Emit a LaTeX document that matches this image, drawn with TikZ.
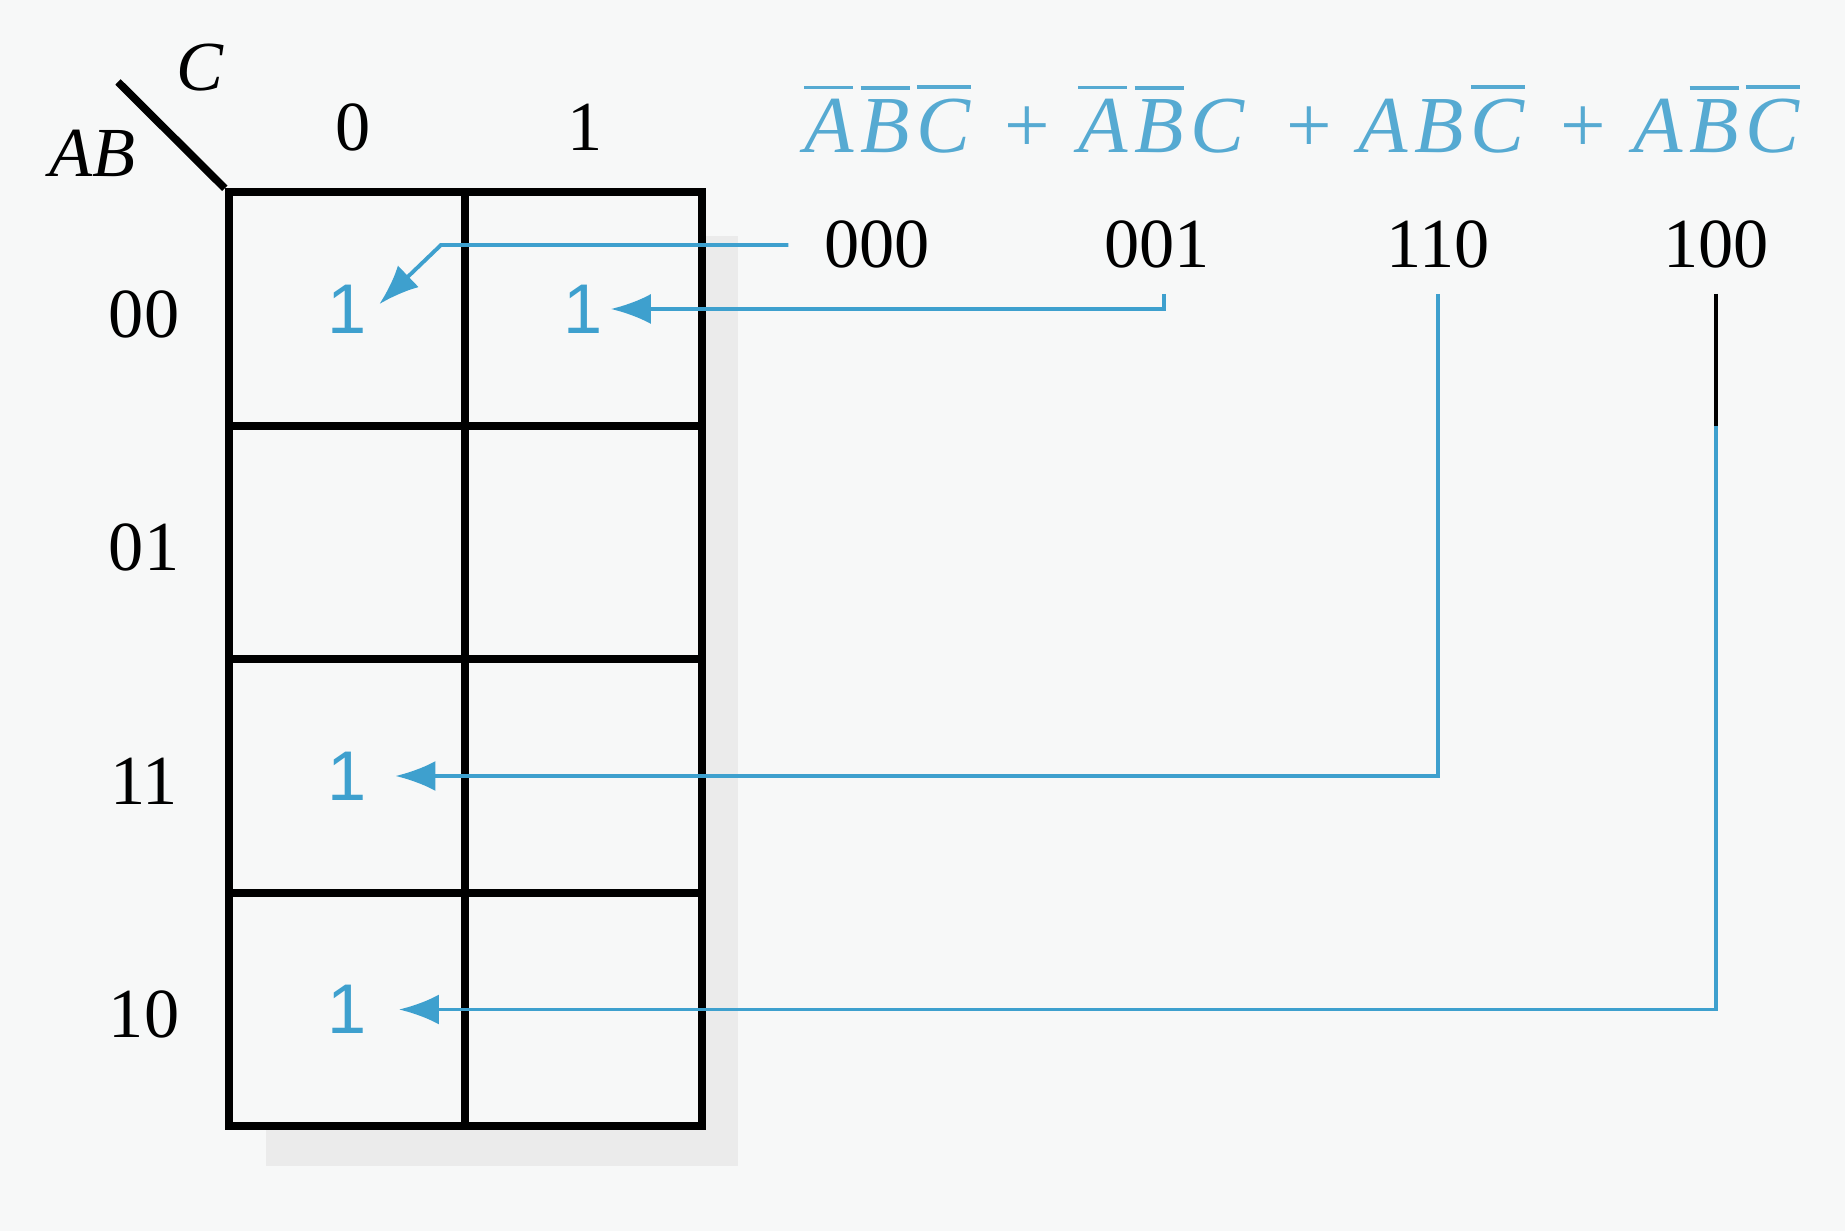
\documentclass[tikz,border=0pt]{standalone}
\usepackage{fontspec}
\setmainfont{Liberation Serif}
\setsansfont{Liberation Sans}
\usepackage{amsmath}
\usetikzlibrary{arrows.meta, positioning, calc}
\definecolor{mapblue}{RGB}{62,160,206}
\definecolor{termblue}{RGB}{86,170,210}
\definecolor{paper}{RGB}{247,248,248}
\newcommand{\nb}[1]{\overline{\text{\itshape #1}}\kern2pt}
\newcommand{\ib}[1]{\text{\itshape #1}\kern2pt}

\begin{document}
\begin{tikzpicture}[
  x=0.01cm, y=-0.01cm,
  every node/.style={font=\fontsize{20}{24}\selectfont, inner sep=2pt},
  cellbox/.style={draw, line width=2.2pt, minimum width=2.365cm,
                  minimum height=2.335cm, inner sep=0pt},
  entry/.style={text=mapblue, font=\fontsize{20}{24}\selectfont\sffamily},
  code/.style={anchor=base},
  term/.style={anchor=base, text=termblue, font=\fontsize{23}{27}\selectfont},
  link/.style={draw=mapblue, line width=1.1pt},
  arr/.style={link, -{Latex[length=4mm, width=3mm]}},
]
  \fill[paper] (0,0) rectangle (1845,1231);
  \useasboundingbox (0,0) rectangle (1845,1231);

  % soft shadow of the map
  \fill[black!8] (706,236) rectangle (738,1166);
  \fill[black!8] (266,1130) rectangle (738,1166);

  % the map
  \foreach \r in {0,...,3}
    \foreach \c in {0,1}
      \node[cellbox] (cell-\r-\c) at ({347+236.5*\c}, {309+233.5*\r}) {};

  \coordinate (corner) at (118,82);
  \draw[line width=2.2pt] (corner) -- (cell-0-0.north west);
  \node[font=\fontsize{20}{24}\selectfont\itshape] (lab-c) at (200,68) {C};
  \node[font=\fontsize{20}{24}\selectfont\itshape] (lab-ab) at (92,153) {AB};

  \node (col-0) at (353,127) {0};
  \node (col-1) at (585,127) {1};
  \foreach \r/\t in {0/00, 1/01, 2/11, 3/10}
    \node (row-\r) at (144, {314+233.5*\r}) {\t};

  \node[entry] (one-a) at (cell-0-0) {1};
  \node[entry] (one-b) at (cell-0-1) {1};
  \node[entry] (one-c) at (cell-2-0) {1};
  \node[entry] (one-d) at (cell-3-0) {1};

  % the expression and its codes
  \node[term] (term-1) at (891,153) {$\nb{A}\nb{B}\nb{C}$};
  \node[term] (plus-1) at (1027,153) {+};
  \node[term] (term-2) at (1165,153) {$\nb{A}\nb{B}\ib{C}$};
  \node[term] (plus-2) at (1309,153) {+};
  \node[term] (term-3) at (1445,153) {$\ib{A}\ib{B}\nb{C}$};
  \node[term] (plus-3) at (1583,153) {+};
  \node[term] (term-4) at (1720,153) {$\ib{A}\nb{B}\nb{C}$};

  \node[code] (code-000) at (877,268) {000};
  \node[code] (code-001) at (1157,268) {001};
  \node[code] (code-110) at (1438,268) {110};
  \node[code] (code-100) at (1716,268) {100};

  \coordinate (bend-000) at (441,240);
  \draw[arr, shorten <=8pt, shorten >=2pt] (code-000.west)
       -- (code-000.west -| bend-000) -- (one-a.east);
  \draw[arr, shorten <=5pt] ([xshift=2pt]code-001.south) |- (one-b.east);
  \draw[arr, shorten <=5pt, shorten >=6pt] (code-110.south) |- (one-c.east);
  \draw[arr, shorten <=5pt, shorten >=7pt] (code-100.south) |- (one-d.east);
  \draw[line width=1.1pt, shorten <=5pt] (code-100.south) -- ++(0,150);
\end{tikzpicture}
\end{document}
